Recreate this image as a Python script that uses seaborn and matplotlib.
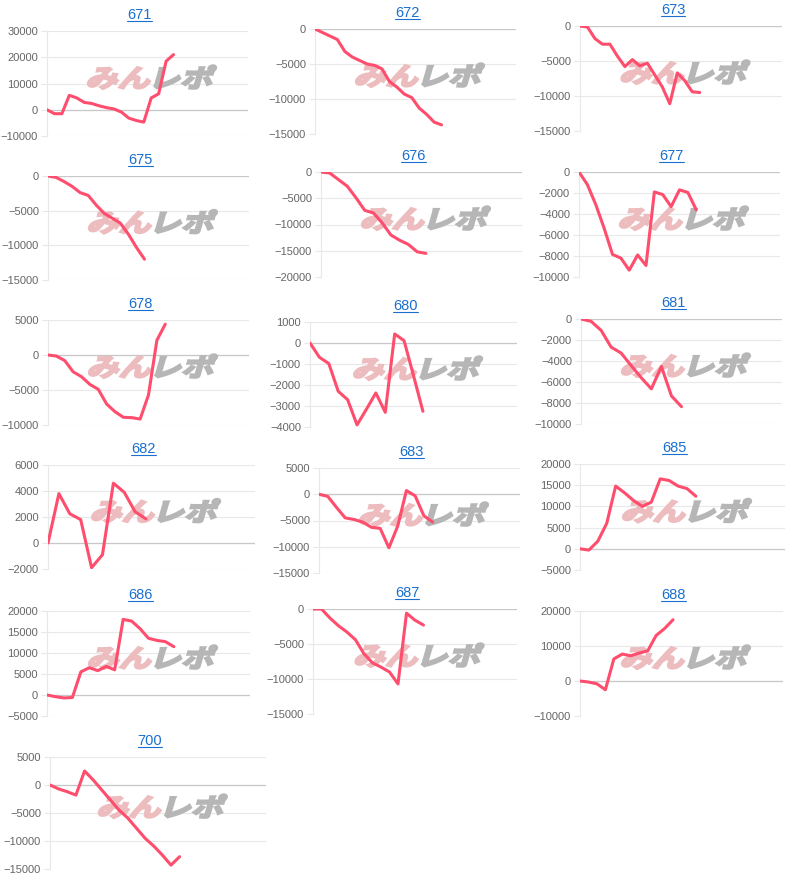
import pandas as pd
import seaborn as sns
import matplotlib as mpl
import matplotlib.pyplot as plt
from matplotlib.lines import Line2D
from matplotlib.patches import PathPatch
from matplotlib.textpath import TextPath
from matplotlib.font_manager import FontProperties
from matplotlib.transforms import Affine2D, ScaledTranslation, IdentityTransform

sns.set_theme(style="white")
plt.rcParams["font.family"] = ["Liberation Sans", "DejaVu Sans"]

# --- data (cumulative difference per machine) ---
machines = ["671", "672", "673", "675", "676", "677", "678", "680",
            "681", "682", "683", "685", "686", "687", "688", "700"]

v671 = [0, -1500, -1500, 5500, 4500, 2800, 2400, 1500, 800, 300, -900, -3200, -4100, -4700, 4500, 6100, 18500, 21000]
v672 = [0, -500, -1000, -1500, -3200, -4000, -4500, -5000, -5200, -5700, -7500, -8300, -9300, -9800, -11300, -12200, -13300, -13700]
v673 = [0, -150, -1800, -2600, -2600, -4300, -5800, -4800, -5700, -5300, -7000, -8700, -11100, -6700, -7800, -9400, -9500]
v675 = [0, -200, -800, -1500, -2400, -2800, -4200, -5400, -6100, -6800, -8400, -10300, -12000]
v676 = [0, -200, -1450, -2700, -4900, -7300, -7800, -9700, -12000, -13000, -13800, -15200, -15500]
v677 = [0, -1200, -3100, -5350, -7850, -8200, -9350, -7900, -8900, -1900, -2150, -3300, -1700, -1950, -3600]
v678 = [0, -150, -800, -2400, -3100, -4200, -4900, -7000, -8100, -8900, -8950, -9150, -5700, 2100, 4400]
v680 = [0, -680, -980, -2300, -2700, -3900, -3150, -2380, -3300, 430, 110, -1550, -3250]
v681 = [0, -220, -1080, -2680, -3250, -4450, -5600, -6650, -4520, -7330, -8350]
v682 = [0, 3800, 2250, 1800, -1900, -900, 4600, 3900, 2400, 1850]
v683 = [0, -400, -2500, -4500, -4800, -5300, -6300, -6500, -10200, -6100, 700, -300, -4100, -5300]
v685 = [0, -300, 1800, 6000, 14800, 13200, 11400, 10000, 11000, 16500, 16100, 14800, 14200, 12400]
v686 = [0, -400, -700, -600, 5500, 6500, 5800, 6800, 6000, 18000, 17600, 15800, 13500, 13000, 12700, 11500]
v687 = [0, 0, -1300, -2400, -3300, -4400, -6400, -7700, -8300, -9000, -10700, -600, -1600, -2300]
v688 = [0, -300, -800, -2500, 6300, 7700, 7200, 8000, 8600, 13000, 15000, 17500]
v700 = [0, -700, -1200, -1800, 2500, 900, -900, -2700, -4500, -5900, -7700, -9500, -10900, -12500, -14300, -12800]

series = [v671, v672, v673, v675, v676, v677, v678, v680,
          v681, v682, v683, v685, v686, v687, v688, v700]

# number of x slots on each chart's category axis
n_slots = [28, 28, 28, 26, 24, 25, 25, 23, 21, 20, 24, 24, 25, 25, 25, 26]

# y axis: (min, max, step)
y_axes = [(-10000, 30000, 10000), (-15000, 0, 5000), (-15000, 0, 5000),
          (-15000, 0, 5000), (-20000, 0, 5000), (-10000, 0, 2000),
          (-10000, 5000, 5000), (-4000, 1000, 1000), (-10000, 0, 2000),
          (-2000, 6000, 2000), (-15000, 5000, 5000), (-5000, 20000, 5000),
          (-5000, 20000, 5000), (-15000, 0, 5000), (-10000, 20000, 10000),
          (-15000, 5000, 5000)]

# plot area boxes in pixels: left, top, right, bottom
boxes = [(47, 31, 248, 136), (315, 29, 516, 134), (580, 26, 782, 131),
         (48, 176, 249, 280), (321, 172, 522, 277), (579, 172, 780, 277),
         (48, 320, 249, 425), (310, 322, 517, 427), (581, 319, 782, 424),
         (48, 465, 255, 569), (319, 468, 520, 573), (580, 464, 785, 570),
         (47, 611, 250, 716), (313, 609, 517, 714), (580, 611, 783, 716),
         (50, 757, 266, 869)]

W, H = 800, 885
LINE = "#ff4d6d"
BLUE = "#1a6fd0"
GRID = "#e8e8e8"
ZERO = "#c8c8c8"
WM_LEFT, WM_RIGHT = "みん", "レポ"

fig = plt.figure(figsize=(W / 100, H / 100), dpi=100)
fig.patch.set_facecolor("white")


def add_watermark(ax):
    fp = FontProperties(family="Noto Sans CJK JP", weight="bold")
    p1 = TextPath((0, 0), WM_LEFT, size=28, prop=fp)
    p2 = TextPath((0, 0), WM_RIGHT, size=28, prop=fp)
    e1, e2 = p1.get_extents(), p2.get_extents()
    gap = 5
    total = e1.width + gap + e2.width
    mid = (min(e1.y0, e2.y0) + max(e1.y1, e2.y1)) / 2
    anchor = ScaledTranslation(0.52, 0.56, ax.transAxes)
    shape = Affine2D().scale(1.15, 0.9).skew_deg(16, 0)
    t1 = Affine2D().translate(-e1.x0 - total / 2, -mid) + shape + anchor
    t2 = Affine2D().translate(-e2.x0 - total / 2 + e1.width + gap, -mid) + shape + anchor
    ax.add_artist(PathPatch(p1, transform=t1, facecolor="#ecbcbe",
                            edgecolor="#ecbcbe", linewidth=1.6, zorder=1))
    ax.add_artist(PathPatch(p2, transform=t2, facecolor="#b6b6b6",
                            edgecolor="#b6b6b6", linewidth=1.6, zorder=1))


titles = []
for name, vals, n, (ymin, ymax, step), (l, t, r, b) in zip(
        machines, series, n_slots, y_axes, boxes):
    ax = fig.add_axes([l / W, 1 - b / H, (r - l) / W, (b - t) / H])
    df = pd.DataFrame({"slot": range(len(vals)), "diff": vals})
    add_watermark(ax)
    sns.lineplot(data=df, x="slot", y="diff", ax=ax, color=LINE,
                 linewidth=2.2, zorder=3, solid_joinstyle="round")
    ax.set_xlim(0, n - 1)
    ax.set_ylim(ymin, ymax)
    ax.set_yticks(range(ymin, ymax + 1, step))
    ax.set_xticks([])
    ax.set_xlabel(None)
    ax.set_ylabel(None)
    ax.set_facecolor("none")
    ax.yaxis.grid(True, color=GRID, linewidth=0.8)
    ax.set_axisbelow(True)
    if ymin < 0 <= ymax:
        ax.axhline(0, color=ZERO, linewidth=0.9, zorder=0.8)
    for side in ["top", "right", "bottom"]:
        ax.spines[side].set_visible(False)
    ax.spines["left"].set_color(GRID)
    ax.spines["left"].set_linewidth(0.8)
    ax.tick_params(axis="y", length=4, width=0.8, color=GRID, pad=2.5,
                   labelsize=8, labelcolor="#666666", left=True)
    titles.append(fig.text((l + r) / 2 / W - 8 / W, 1 - (t - 16) / H, name,
                           ha="center", va="center", color=BLUE, fontsize=10.5))

# underline the titles like links
fig.canvas.draw()
for txt in titles:
    bb = txt.get_window_extent()
    fig.add_artist(Line2D([bb.x0, bb.x1], [bb.y0 + 1, bb.y0 + 1],
                          transform=IdentityTransform(), color=BLUE, linewidth=0.8))

plt.savefig("out.png", dpi=100)
